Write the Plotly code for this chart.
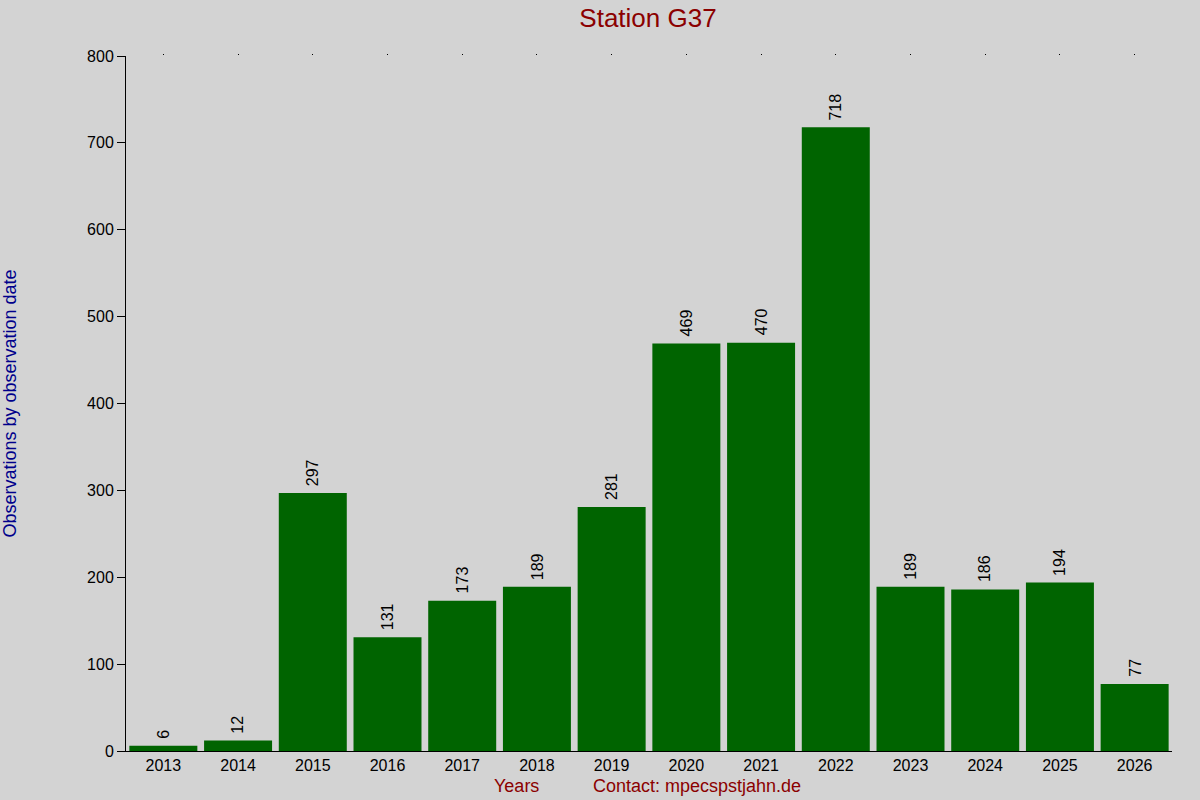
import plotly.graph_objects as go

years = ["2013", "2014", "2015", "2016", "2017", "2018", "2019", "2020",
         "2021", "2022", "2023", "2024", "2025", "2026"]
counts = [6, 12, 297, 131, 173, 189, 281, 469, 470, 718, 189, 186, 194, 77]
y_ticks = [0, 100, 200, 300, 400, 500, 600, 700, 800]

fig = go.Figure()
fig.add_trace(go.Bar(
    x=years, y=counts,
    marker=dict(color="#006400", line=dict(width=0)),
    width=0.91,
    hoverinfo="x+y",
))
# invisible trace on top axis for tick dots
fig.add_trace(go.Scatter(x=years, y=counts, xaxis="x2", mode="markers",
                         marker=dict(opacity=0), hoverinfo="skip", showlegend=False))

# value labels above bars (category axis: position by category index)
annotations = [
    dict(x=i, y=c, xref="x", yref="y", text=str(c), textangle=-90,
         showarrow=False, xanchor="center", yanchor="bottom", yshift=5,
         font=dict(size=16, color="black"))
    for i, c in enumerate(counts)
]
annotations += [
    dict(text="Years", xref="paper", yref="paper", x=0.373, y=-0.050,
         xanchor="center", yanchor="middle", showarrow=False,
         font=dict(size=18, color="#8B0000")),
    dict(text="Contact: mpecspstjahn.de", xref="paper", yref="paper", x=0.546, y=-0.050,
         xanchor="center", yanchor="middle", showarrow=False,
         font=dict(size=18, color="#8B0000")),
]

fig.update_layout(
    width=1200, height=800,
    paper_bgcolor="#D3D3D3", plot_bgcolor="#D3D3D3",
    margin=dict(l=126, r=28, t=56, b=49, autoexpand=False),
    showlegend=False,
    font=dict(family="Liberation Sans, Arial", size=16, color="black"),
    title=dict(text="Station G37", x=0.54, xanchor="center", y=0.978, yanchor="middle",
               font=dict(size=26, color="#8B0000")),
    xaxis=dict(type="category", range=[-0.5, 13.5], showgrid=False,
               showline=True, linecolor="black", linewidth=1, automargin=False,
               ticks="", tickfont=dict(size=16, color="black"), zeroline=False),
    xaxis2=dict(type="category", overlaying="x", side="top", anchor="y",
                range=[-0.5, 13.5], showgrid=False, showline=False, automargin=False,
                ticks="outside", ticklen=1, tickwidth=1, tickcolor="black",
                showticklabels=False, matches="x"),
    yaxis=dict(range=[0, 800], tickvals=y_ticks, showgrid=False,
               showline=True, linecolor="black", linewidth=1, automargin=False,
               ticks="outside", ticklen=8, tickcolor="black",
               tickfont=dict(size=16, color="black"), zeroline=False,
               title=dict(text="Observations by observation date",
                          font=dict(size=18, color="#00008B"), standoff=67)),
    annotations=annotations,
)

fig.write_html("out.html", config={"displayModeBar": False},
               post_script="document.body.style.margin='0';")
